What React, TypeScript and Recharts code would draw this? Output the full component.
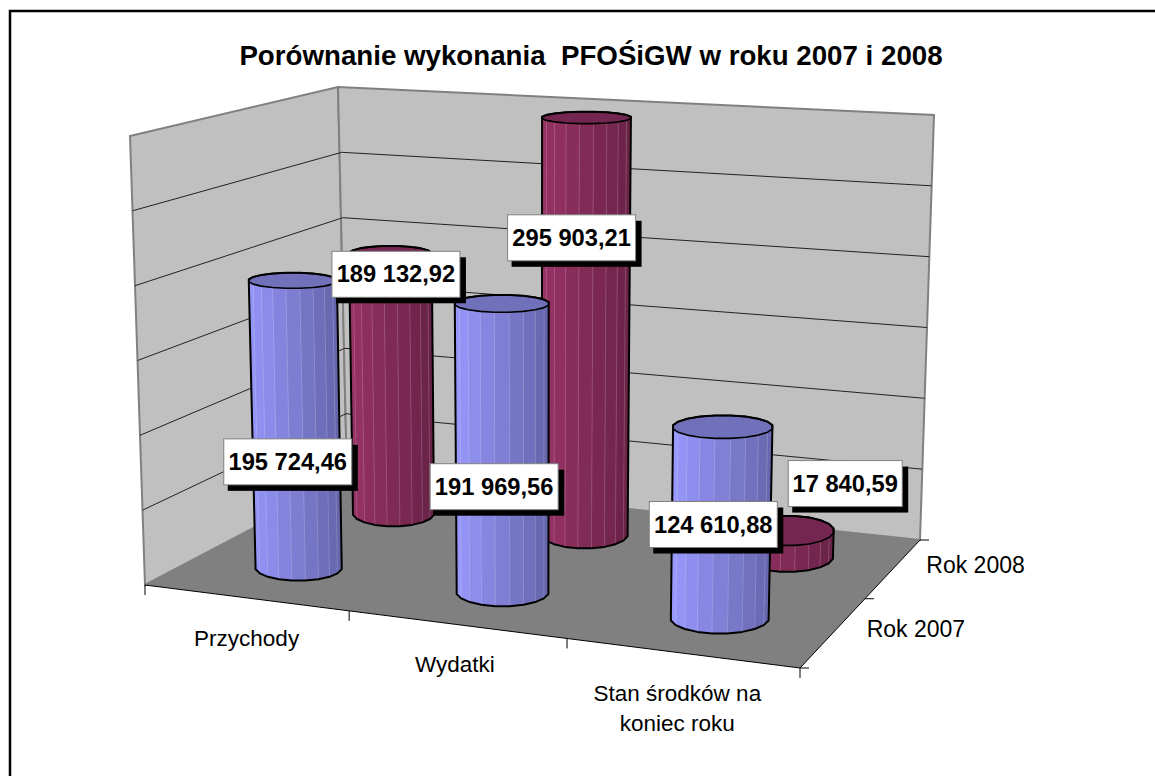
import { BarChart, Bar, XAxis, YAxis, LabelList } from "recharts";

const categories = ["Przychody", "Wydatki", "Stan środków na koniec roku"];
const series2007 = [195724.46, 191969.56, 124610.88];
const series2008 = [189132.92, 295903.21, 17840.59];
const seriesNames = ["Rok 2007", "Rok 2008"];
const yTicks = [0, 50000, 100000, 150000, 200000, 250000, 300000];

const chartData = categories.map((name, i) => ({
  name,
  rok2007: series2007[i],
  rok2008: series2008[i],
}));

const WIDTH = 1155;
const HEIGHT = 776;
const PLOT = { left: 100, top: 100, width: 1000, height: 600 };
const FONT = "'Liberation Sans', Arial, sans-serif";

type Pt = [number, number];

// corners of the 3d box: front-left, front-right, back-right, back-left
const FLOOR: Pt[] = [[145, 585], [800, 668], [920, 540], [347, 479]];
const CEILING: Pt[] = [[130, 136], [811, 190], [934, 115], [338, 87]];
// verticals lean towards this point, far below the picture
const VANISH: Pt = [535, 12252];

function homography(q: Pt[]) {
  const [[x0, y0], [x1, y1], [x2, y2], [x3, y3]] = q;
  const dx1 = x1 - x2, dx2 = x3 - x2, sx = x0 - x1 + x2 - x3;
  const dy1 = y1 - y2, dy2 = y3 - y2, sy = y0 - y1 + y2 - y3;
  const den = dx1 * dy2 - dx2 * dy1;
  const g = (sx * dy2 - dx2 * sy) / den;
  const h = (dx1 * sy - sx * dy1) / den;
  const a = x1 - x0 + g * x1, b = x3 - x0 + h * x3;
  const d = y1 - y0 + g * y1, e = y3 - y0 + h * y3;
  return (u: number, w: number): Pt => {
    const z = g * u + h * w + 1;
    return [(a * u + b * w + x0) / z, (d * u + e * w + y0) / z];
  };
}

const floorAt = homography(FLOOR);
const ceilingAt = homography(CEILING);

// u along categories, w into the depth, v up the value axis (all 0..1)
function project(u: number, w: number, v: number): Pt {
  const p = floorAt(u, w);
  const y = p[1] + (ceilingAt(u, w)[1] - p[1]) * v;
  const x = VANISH[0] + ((p[0] - VANISH[0]) * (VANISH[1] - y)) / (VANISH[1] - p[1]);
  return [x, y];
}

const pts = (list: Pt[]) => list.map((p) => `${p[0].toFixed(1)},${p[1].toFixed(1)}`).join(" ");

function hull(points: Pt[]): Pt[] {
  const s = [...points].sort((a, b) => a[0] - b[0] || a[1] - b[1]);
  const cross = (o: Pt, a: Pt, b: Pt) => (a[0] - o[0]) * (b[1] - o[1]) - (a[1] - o[1]) * (b[0] - o[0]);
  const half = (list: Pt[]) => {
    const out: Pt[] = [];
    for (const p of list) {
      while (out.length > 1 && cross(out[out.length - 2], out[out.length - 1], p) <= 0) out.pop();
      out.push(p);
    }
    out.pop();
    return out;
  };
  return [...half(s), ...half([...s].reverse())];
}

const mix = (a: number[], b: number[], t: number) =>
  `rgb(${a.map((c, i) => Math.round(c + (b[i] - c) * t)).join(",")})`;

const BLUE = { light: [153, 153, 255], dark: [100, 100, 170], top: "#7070BB" };
const PURPLE = { light: [153, 51, 102], dark: [104, 34, 70], top: "#73264F" };

const FACETS = 20;
const BAR_SIZE = 147;

function makeCylinder(depth: number, colors: typeof BLUE) {
  return function Cylinder(props: any) {
    const { x, width, height } = props;
    const uc = (x + width / 2 - PLOT.left) / PLOT.width;
    const ru = width / 2 / PLOT.width;
    const v = height / PLOT.height;
    const angles = Array.from({ length: FACETS }, (_, i) => ((i + 0.5) / FACETS) * Math.PI * 2);
    const ring = (level: number): Pt[] => {
      const c = project(uc, depth, level);
      const rx = (project(uc + ru, depth, level)[0] - project(uc - ru, depth, level)[0]) / 2;
      const flatness = 0.125 - 0.025 * level;
      const ry = flatness * Math.abs(project(uc, 1, level)[1] - project(uc, 0, level)[1]);
      return angles.map((a) => [c[0] + rx * Math.cos(a), c[1] + ry * Math.sin(a)]);
    };
    const bottom = ring(0);
    const top = ring(v);
    const all = [...bottom, ...top];
    const minX = Math.min(...all.map((p) => p[0]));
    const maxX = Math.max(...all.map((p) => p[0]));
    // near side of the ring only (screen y grows downward)
    const front = bottom
      .map((b, i) => {
        const n = (i + 1) % FACETS;
        return [b, bottom[n], top[n], top[i]] as Pt[];
      })
      .filter((q) => q[0][1] + q[1][1] > 2 * project(uc, depth, 0)[1]);
    return (
      <g>
        {front.map((q, i) => {
          const cx = (q[0][0] + q[1][0]) / 2;
          const fill = mix(colors.light, colors.dark, (cx - minX) / (maxX - minX));
          return (
            <g key={i}>
              <polygon points={pts(q)} fill={fill} stroke={fill} strokeWidth={0.6} />
              <line x1={q[0][0]} y1={q[0][1]} x2={q[3][0]} y2={q[3][1]} stroke="#fff" strokeOpacity={0.16} />
            </g>
          );
        })}
        <polygon points={pts(top)} fill={colors.top} stroke="#000" strokeWidth={1.6} strokeLinejoin="round" />
        <polygon points={pts(hull(all))} fill="none" stroke="#000" strokeWidth={2} strokeLinejoin="round" />
      </g>
    );
  };
}

const formatValue = (n: number) => {
  const [whole, frac] = n.toFixed(2).split(".");
  return `${whole.replace(/\B(?=(\d{3})+$)/g, " ")},${frac}`;
};

// nudges of each value box from the middle of its cylinder
const LABEL_NUDGE_2007: Pt[] = [[-8, 38], [-8, 39], [-8, 2]];
const LABEL_NUDGE_2008: Pt[] = [[4, -109], [-14, -88], [57.5, -60]];
const LABEL_WIDTHS_2008 = [128, 128, 114];

function makeValueLabel(depth: number, nudges: Pt[], widths?: number[]) {
  return function ValueLabel(props: any) {
    const { x, width, height, value, index } = props;
    const uc = (x + width / 2 - PLOT.left) / PLOT.width;
    const [cx, cy] = project(uc, depth, height / PLOT.height / 2);
    const w = widths ? widths[index] : 128;
    const bx = cx + nudges[index][0] - w / 2;
    const by = cy + nudges[index][1] - 23;
    return (
      <g>
        <rect x={bx + 4} y={by + 6} width={w + 2} height={46} fill="#000" />
        <rect x={bx} y={by} width={w} height={46} fill="#fff" stroke="#808080" strokeWidth={1} />
        <text x={bx + w / 2} y={by + 31} textAnchor="middle" fontFamily={FONT} fontWeight={700} fontSize={23.7} fill="#000">
          {formatValue(Number(value))}
        </text>
      </g>
    );
  };
}

function Box() {
  const tickSegs = [0, 1 / 3, 2 / 3, 1].map((u) => floorAt(u, 0));
  const depthSegs = [0, 0.5, 1].map((w) => floorAt(1, w));
  return (
    <g>
      <path d="M10 776V11H1155" fill="none" stroke="#000" strokeWidth={2.5} />
      <text x={591} y={65} textAnchor="middle" fontFamily={FONT} fontWeight={700} fontSize={27.7} fill="#000" style={{ whiteSpace: "pre" }}>
        Porównanie wykonania  PFOŚiGW w roku 2007 i 2008
      </text>
      <polygon points={pts([CEILING[0], CEILING[3], FLOOR[3], FLOOR[0]])} fill="#C0C0C0" stroke="#808080" strokeWidth={2} />
      <polygon points={pts([CEILING[3], CEILING[2], FLOOR[2], FLOOR[3]])} fill="#C0C0C0" stroke="#808080" strokeWidth={2} />
      {yTicks.slice(1, -1).map((t) => {
        const v = t / yTicks[yTicks.length - 1];
        return (
          <polyline
            key={t}
            points={pts([project(0, 0, v), project(0, 1, v), project(1, 1, v)])}
            fill="none"
            stroke="#222"
            strokeWidth={1}
          />
        );
      })}
      <polygon points={pts(FLOOR)} fill="#808080" />
      <line x1={FLOOR[0][0]} y1={FLOOR[0][1]} x2={FLOOR[1][0]} y2={FLOOR[1][1]} stroke="#000" strokeWidth={1} />
      <line x1={FLOOR[1][0]} y1={FLOOR[1][1]} x2={FLOOR[2][0]} y2={FLOOR[2][1]} stroke="#000" strokeWidth={1} />
      {tickSegs.map((p, i) => (
        <line key={i} x1={p[0]} y1={p[1]} x2={p[0]} y2={p[1] + 10} stroke="#000" strokeWidth={1} />
      ))}
      {depthSegs.map((p, i) => (
        <line key={i} x1={p[0]} y1={p[1]} x2={p[0] + 9} y2={p[1]} stroke="#000" strokeWidth={1} />
      ))}
      {seriesNames.map((name, i) => {
        const p = floorAt(1, 0.25 + i * 0.5);
        return (
          <text key={name} x={p[0] + 82} y={p[1] + 5} textAnchor="middle" fontFamily={FONT} fontSize={23} fill="#000">
            {name}
          </text>
        );
      })}
    </g>
  );
}

function CategoryTick(props: any) {
  const { x, payload } = props;
  const u = (x - PLOT.left) / PLOT.width;
  const [px, py] = floorAt(u, 0);
  const tx = px + 2.5 - 8 * u;
  const words = String(payload.value).split(" ");
  const lines = words.length > 1 ? [words.slice(0, 3).join(" "), words.slice(3).join(" ")] : words;
  return (
    <text x={tx} y={py + 48} textAnchor="middle" fontFamily={FONT} fontSize={22.5} fill="#000">
      {lines.map((line, i) => (
        <tspan key={i} x={tx} dy={i ? 30 : 0}>
          {line}
        </tspan>
      ))}
    </text>
  );
}

const BackCylinder = makeCylinder(0.75, PURPLE);
const FrontCylinder = makeCylinder(0.25, BLUE);
const BackLabel = makeValueLabel(0.75, LABEL_NUDGE_2008, LABEL_WIDTHS_2008);
const FrontLabel = makeValueLabel(0.25, LABEL_NUDGE_2007);

export default function App() {
  return (
    <div style={{ position: "absolute", left: 0, top: 0, width: WIDTH, height: HEIGHT }}>
      <BarChart
        width={WIDTH}
        height={HEIGHT}
        data={chartData}
        barSize={BAR_SIZE}
        margin={{ left: PLOT.left, top: PLOT.top, right: WIDTH - PLOT.left - PLOT.width, bottom: HEIGHT - PLOT.top - PLOT.height - 1 }}
      >
        <Box />
        <XAxis xAxisId="front" dataKey="name" height={1} axisLine={false} tickLine={false} tick={<CategoryTick />} interval={0} />
        <XAxis xAxisId="back" dataKey="name" hide />
        <YAxis hide domain={[0, 300000]} ticks={yTicks} />
        <Bar xAxisId="back" dataKey="rok2008" name={seriesNames[1]} shape={<BackCylinder />} isAnimationActive={false}>
          <LabelList dataKey="rok2008" content={<BackLabel />} />
        </Bar>
        <Bar xAxisId="front" dataKey="rok2007" name={seriesNames[0]} shape={<FrontCylinder />} isAnimationActive={false}>
          <LabelList dataKey="rok2007" content={<FrontLabel />} />
        </Bar>
      </BarChart>
    </div>
  );
}
